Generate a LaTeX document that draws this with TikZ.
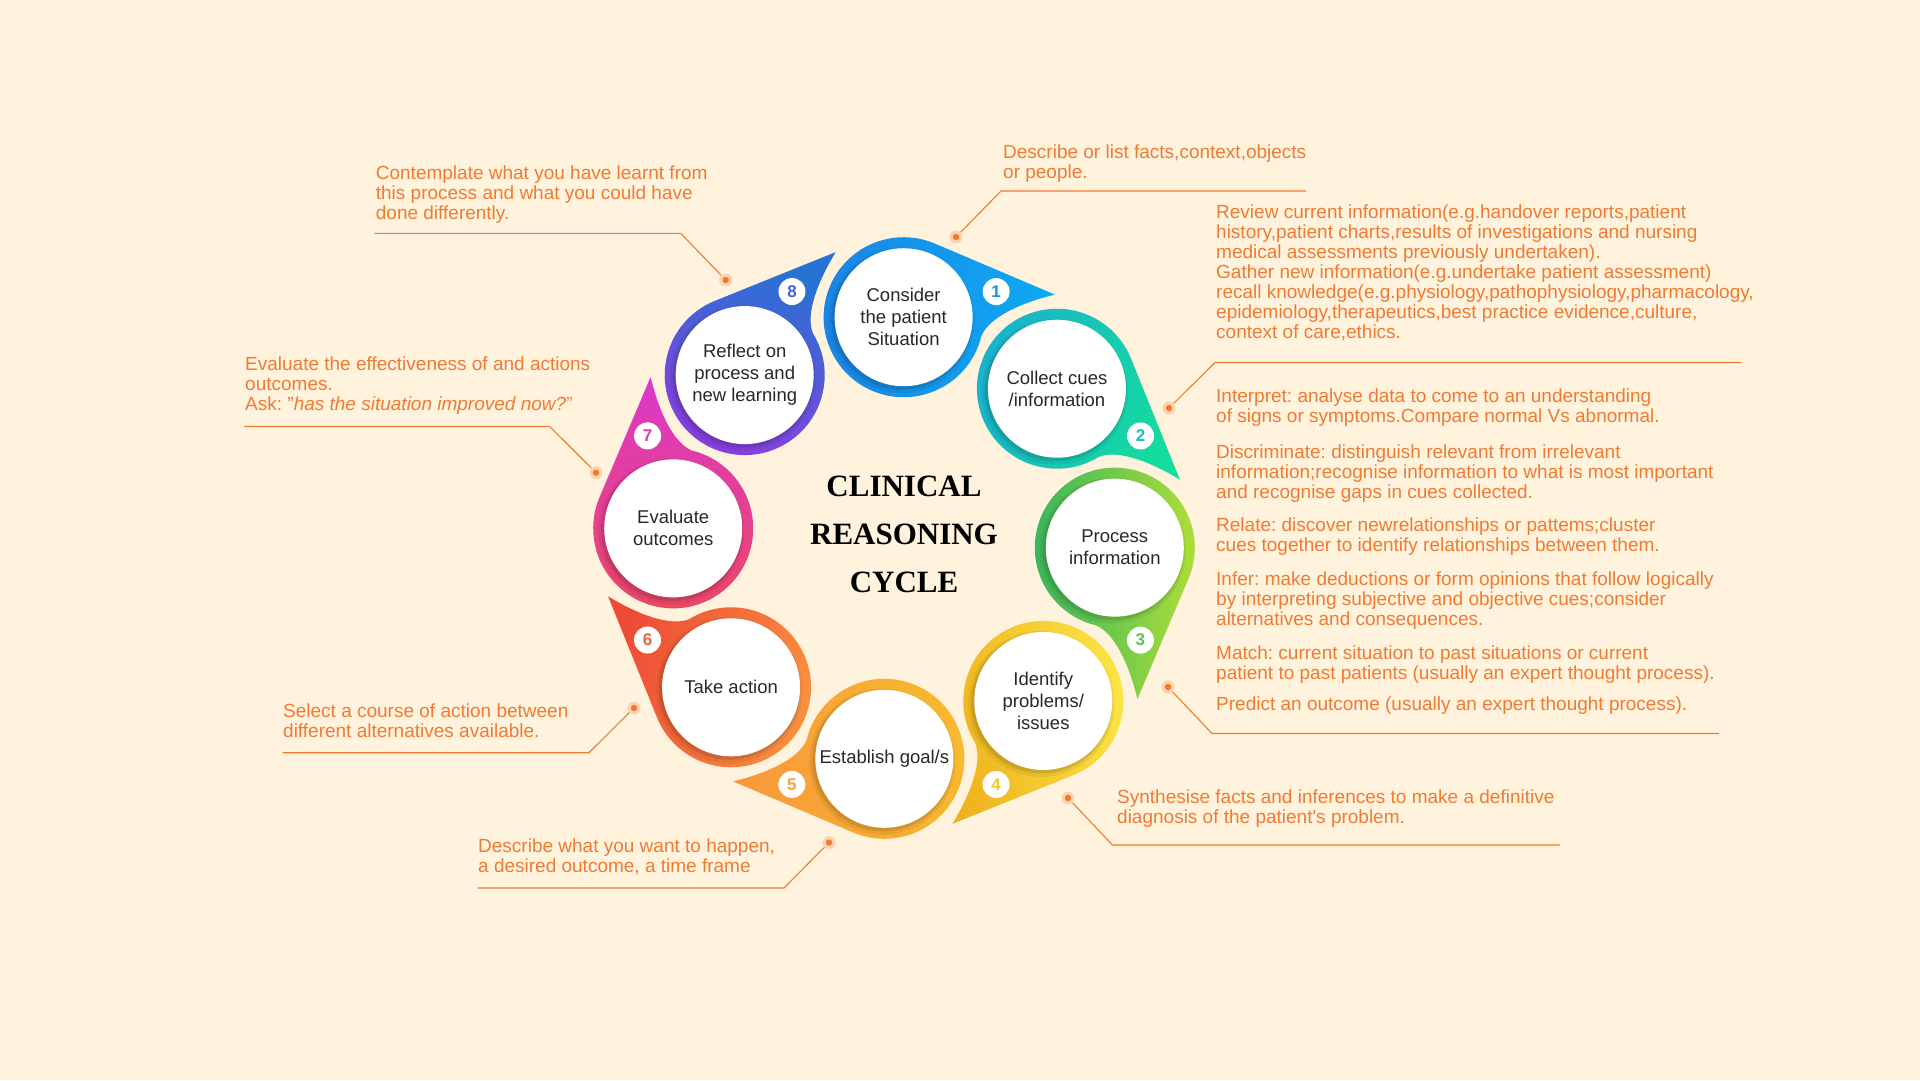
\documentclass[tikz,border=0pt]{standalone}
\usepackage{fontspec}
\setmainfont{Liberation Sans}
\newfontfamily\titlefont{Liberation Serif}
\usepackage{tikz}
\usetikzlibrary{calc}
\frenchspacing

\definecolor{bgcream}{HTML}{FFF3DD}
\definecolor{noteorange}{HTML}{F07A32}
\definecolor{dotpeach}{HTML}{FAD2AE}
\definecolor{inkgray}{HTML}{272727}
\definecolor{oneA}{HTML}{1B84E3}
\definecolor{oneB}{HTML}{0DAAF3}
\definecolor{twoA}{HTML}{1BB0D0}
\definecolor{twoB}{HTML}{14DC9C}
\definecolor{threeA}{HTML}{34B45E}
\definecolor{threeB}{HTML}{AEDE38}
\definecolor{fourA}{HTML}{EFB21F}
\definecolor{fourB}{HTML}{FBE545}
\definecolor{fiveA}{HTML}{F9983A}
\definecolor{fiveB}{HTML}{F6BA2F}
\definecolor{sixA}{HTML}{EE4B36}
\definecolor{sixB}{HTML}{F99340}
\definecolor{sevenA}{HTML}{DC38CA}
\definecolor{sevenB}{HTML}{EC4762}
\definecolor{eightA}{HTML}{2474D3}
\definecolor{eightB}{HTML}{8E3CE0}

\begin{document}
\begin{tikzpicture}[
        x=1pt, y=1pt,
        stage/.style={circle, fill=white, minimum size=138, inner sep=0, align=center, text=inkgray, font=\fontsize{18.5}{22}\selectfont},
        numbadge/.style={circle, fill=white, minimum size=27, inner sep=0, font=\fontsize{17}{17}\selectfont\bfseries},
        tipdot/.style={circle, fill=dotpeach, minimum size=13, inner sep=0, path picture={\fill[noteorange] (path picture bounding box.center) circle (3.2);}},
        notetext/.style={anchor=north west, inner sep=0, align=left, text=noteorange, font=\fontsize{19}{20}\selectfont},
        leader/.style={draw=noteorange, line width=1.1}
    ]
    \fill[bgcream] (0,0) rectangle (1920,-1080);
    \useasboundingbox (0,0) rectangle (1920,-1080);
    \coordinate (hub) at (894,-538);

    % Rings with tails
    \foreach \k/\ca/\cb/\ang in {1/oneA/oneB/90, 2/twoA/twoB/70, 3/threeA/threeB/90, 4/fourA/fourB/100,
                                 5/fiveA/fiveB/100, 6/sixA/sixB/70, 7/sevenA/sevenB/0, 8/eightA/eightB/-20}{
        \pgfmathsetmacro\th{87.5-45*(\k-1)}
        \pgfmathsetmacro\p{\th-79}
        \coordinate (c\k) at ($(hub)+(\th:221)$);
        \shade[top color=\ca, bottom color=\cb, shading angle=\ang]
            ($(c\k)+(\p+58.5:80)$) -- ($(c\k)+(\p:153)$)
            .. controls ($(c\k)+(\p-1.4:120)$) and ($(c\k)+(\p-8:86)$) .. ($(c\k)+(\p-22:80)$)
            arc[start angle=\p-22, end angle=\p-301.5, radius=80] -- cycle;
        \fill[black, opacity=.06] ($(c\k)+(-2,-3)$) circle (73);
        \fill[black, opacity=.10] ($(c\k)+(-1.5,-2)$) circle (70.5);
        \node[numbadge, text=\ca!65!\cb] (b\k) at ($(c\k)+(\p+7:96)$) {\k};
    }

    % Stages
    \node[stage] (s1) at (c1) {Consider\\the patient\\Situation};
    \node[stage] (s2) at (c2) {Collect cues\\/information};
    \node[stage] (s3) at (c3) {Process\\information};
    \node[stage] (s4) at (c4) {Identify\\problems/\\issues};
    \node[stage] (s5) at (c5) {Establish goal/s};
    \node[stage] (s6) at (c6) {Take action};
    \node[stage] (s7) at (c7) {Evaluate\\outcomes};
    \node[stage] (s8) at (c8) {Reflect on\\process and\\new learning};

    \node[align=center, text=black, font=\titlefont\bfseries\fontsize{31}{48}\selectfont] (title) at (904,-534) {CLINICAL\\REASONING\\CYCLE};

    % Notes
    \node[tipdot] (d1) at (956,-237) {};
    \coordinate (e1) at (1001,-191);
    \coordinate (f1) at (1306,-191);
    \node[notetext] (n1) at (1003,-144.5) {Describe or list facts,context,objects\\or people.};

    \node[tipdot] (d2) at (1169,-408) {};
    \coordinate (e2) at (1215,-362.5);
    \coordinate (f2) at (1741,-362.5);
    \node[notetext] (n2) at (1216,-204.5) {Review current information(e.g.handover reports,patient\\
        history,patient charts,results of investigations and nursing\\
        medical assessments previously undertaken).\\
        Gather new information(e.g.undertake patient assessment)\\
        recall knowledge(e.g.physiology,pathophysiology,pharmacology,\\
        epidemiology,therapeutics,best practice evidence,culture,\\
        context of care,ethics.};

    \node[tipdot] (d3) at (1168,-687) {};
    \coordinate (e3) at (1212,-733.5);
    \coordinate (f3) at (1719,-733.5);
    \node[notetext] (n3) at (1216,-388.5) {Interpret: analyse data to come to an understanding\\
        of signs or symptoms.Compare normal Vs abnormal.\\[16pt]
        Discriminate: distinguish relevant from irrelevant\\
        information;recognise information to what is most important\\
        and recognise gaps in cues collected.\\[13pt]
        Relate: discover newrelationships or pattems;cluster\\
        cues together to identify relationships between them.\\[14pt]
        Infer: make deductions or form opinions that follow logically\\
        by interpreting subjective and objective cues;consider\\
        alternatives and consequences.\\[14pt]
        Match: current situation to past situations or current\\
        patient to past patients (usually an expert thought process).\\[11pt]
        Predict an outcome (usually an expert thought process).};

    \node[tipdot] (d4) at (1068,-798) {};
    \coordinate (e4) at (1112.5,-845);
    \coordinate (f4) at (1560,-845);
    \node[notetext] (n4) at (1117,-789.3) {Synthesise facts and inferences to make a definitive\\diagnosis of the patient\textquotesingle s problem.};

    \node[tipdot] (d5) at (829,-842.5) {};
    \coordinate (e5) at (784,-888);
    \coordinate (f5) at (477.5,-888);
    \node[notetext] (n5) at (478,-838.3) {Describe what you want to happen,\\a desired outcome, a time frame};

    \node[tipdot] (d6) at (634,-708) {};
    \coordinate (e6) at (589,-752.7);
    \coordinate (f6) at (282.5,-752.7);
    \node[notetext] (n6) at (283,-703.5) {Select a course of action between\\different alternatives available.};

    \node[tipdot] (d7) at (596,-472.7) {};
    \coordinate (e7) at (549.7,-426.5);
    \coordinate (f7) at (244.3,-426.5);
    \node[notetext] (n7) at (245,-356.8) {Evaluate the effectiveness of and actions\\outcomes.\\Ask: "\textit{has the situation improved now?}"};

    \node[tipdot] (d8) at (725.7,-280) {};
    \coordinate (e8) at (680.7,-233.3);
    \coordinate (f8) at (374.6,-233.3);
    \node[notetext] (n8) at (375.7,-165.5) {Contemplate what you have learnt from\\this process and what you could have\\done differently.};

    % Leaders
    \foreach \k in {1,...,8}
        \draw[leader] (d\k) -- (e\k) -- (f\k);
\end{tikzpicture}
\end{document}
